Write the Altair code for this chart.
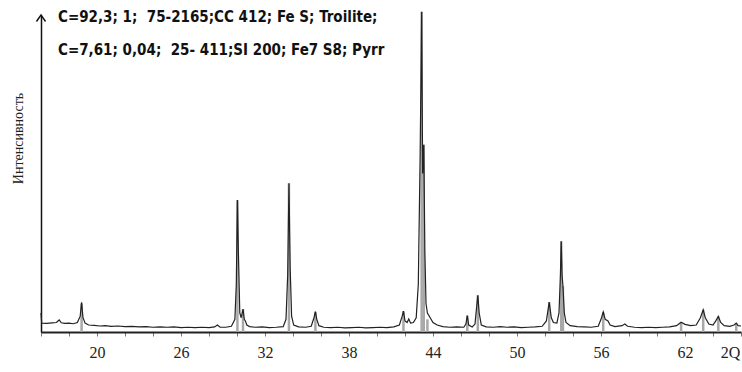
import altair as alt
import pandas as pd

# Diffraction profile (2θ, intensity in relative units, full scale = 1000)
two_theta = [
    16.00, 16.05, 16.4, 16.8, 17.1, 17.3, 17.45, 17.7, 18.0, 18.3, 18.6, 18.8, 18.9, 19.0, 19.15,
    19.4, 19.8, 20.2, 20.6, 21.0, 21.5, 22.0, 22.5, 23.0, 23.5, 24.0, 24.5, 25.0, 25.5, 26.0,
    26.5, 27.0, 27.5, 28.0, 28.4, 28.6, 28.8, 29.2, 29.6, 29.85, 29.95, 30.03, 30.1, 30.2, 30.3,
    30.43, 30.52, 30.6, 30.7, 30.9, 31.3, 31.8, 32.3, 32.8, 33.3, 33.5, 33.62, 33.71, 33.8, 33.9,
    34.05, 34.4, 34.9, 35.3, 35.5, 35.6, 35.7, 35.85, 36.2, 36.7, 37.2, 37.7, 38.2, 38.7, 39.2,
    39.7, 40.2, 40.7, 41.2, 41.6, 41.8, 41.89, 42.0, 42.15, 42.27, 42.4, 42.6, 42.8, 42.95, 43.08,
    43.19, 43.26, 43.34, 43.42, 43.5, 43.6, 43.8, 44.0, 44.3, 44.7, 45.2, 45.7, 46.2, 46.35, 46.45,
    46.55, 46.8, 47.0, 47.12, 47.2, 47.3, 47.45, 47.8, 48.3, 48.8, 49.3, 49.8, 50.3, 50.8, 51.3,
    51.8, 52.1, 52.3, 52.45, 52.6, 52.85, 53.0, 53.1, 53.16, 53.22, 53.28, 53.38, 53.5, 53.8, 54.3,
    54.8, 55.3, 55.8, 56.0, 56.16, 56.3, 56.5, 56.65, 57.0, 57.5, 57.7, 57.9, 58.4, 58.9, 59.4,
    59.9, 60.4, 60.9, 61.4, 61.72, 62.0, 62.4, 62.8, 63.1, 63.3, 63.45, 63.7, 64.0, 64.2, 64.38,
    64.55, 64.8, 65.2, 65.5, 65.66, 65.8, 66.0,
]
intensity = [
    60, 28, 27, 29, 30, 38, 29, 27, 28, 26, 30, 50, 94, 45, 28,
    22, 21, 19, 20, 18, 19, 17, 18, 16, 17, 15, 16, 15, 16, 14,
    15, 14, 15, 14, 16, 22, 15, 15, 18, 40, 150, 416, 250, 60, 45,
    72, 40, 35, 22, 17, 15, 16, 14, 15, 17, 40, 180, 469, 200, 50,
    22, 16, 15, 18, 45, 64, 40, 20, 15, 14, 15, 13, 14, 15, 13,
    14, 15, 14, 16, 22, 50, 66, 35, 30, 41, 28, 30, 45, 150, 550,
    1010, 500, 591, 250, 90, 60, 45, 30, 22, 17, 15, 16, 15, 25, 52,
    22, 16, 25, 80, 116, 60, 22, 16, 15, 17, 15, 16, 14, 15, 16,
    18, 35, 94, 45, 30, 28, 60, 180, 286, 180, 145, 60, 30, 20, 17,
    16, 15, 18, 40, 63, 40, 35, 22, 17, 20, 25, 18, 15, 14, 15,
    14, 15, 16, 20, 31, 24, 20, 22, 45, 70, 45, 25, 22, 35, 49,
    30, 20, 18, 22, 28, 20, 19,
]

# Reference (stick) pattern drawn in grey
stick_theta = [18.9, 30.03, 30.43, 33.71, 35.6, 41.89, 43.19, 43.34, 43.6, 46.45, 47.2,
               52.3, 53.16, 53.28, 56.16, 61.72, 63.3, 64.38, 65.66]
stick_height = [90, 416, 72, 469, 64, 66, 1010, 591, 40, 52, 116,
                94, 286, 145, 63, 31, 70, 49, 28]

tick_values = list(range(16, 67, 2))
tick_labels = [20, 26, 32, 38, 44, 50, 56, 62]
x_title = "2Q"
y_title = "Интенсивность"
header_lines = [
    "C=92,3; 1;\u00a0 75-2165;CC 412; Fe S; Troilite;",
    "C=7,61; 0,04;\u00a0 25- 411;SI 200; Fe7 S8; Pyrr",
]

profile = pd.DataFrame({"t": two_theta, "i": intensity})
sticks_df = pd.DataFrame({"t": stick_theta, "h": stick_height, "z": [0] * len(stick_theta)})

label_expr = "indexof([" + ",".join(str(v) for v in tick_labels) + "], datum.value) >= 0 ? datum.label : ''"

x_scale = alt.Scale(domain=[16, 66], nice=False, zero=False)
y_scale = alt.Scale(domain=[0, 1000], nice=False)

x_axis = alt.Axis(
    values=tick_values, labelExpr=label_expr, grid=False,
    domainColor="#222", domainWidth=2, tickColor="#777", tickSize=4, tickWidth=1,
    labelFont="Liberation Serif", labelFontSize=16, labelColor="#222", labelPadding=8,
    labelFlush=False, labelOverlap=False, labelBound=False, labelSeparation=0,
    title=x_title, titleFont="Liberation Serif", titleFontSize=16, titleFontWeight="normal",
    titleColor="#222", titleX=689, titleY=12, titleAlign="center", titleBaseline="top",
)
y_axis = alt.Axis(
    labels=False, ticks=False, grid=False, domainColor="#111", domainWidth=1.5,
    title=y_title, titleFont="Liberation Serif", titleFontSize=14, titleFontWeight="normal",
    titleColor="#222", titleAngle=270, titleX=-23, titleY=123, titleAlign="center",
    titleBaseline="middle",
)

sticks = alt.Chart(sticks_df).mark_rule(color="#a8a8a8", strokeWidth=2.5).encode(
    x=alt.X("t:Q", scale=x_scale, axis=x_axis),
    y=alt.Y("z:Q", scale=y_scale, axis=y_axis),
    y2="h:Q",
)

line = alt.Chart(profile).mark_line(color="#222", strokeWidth=1.2, clip=False).encode(
    x=alt.X("t:Q", scale=x_scale, axis=x_axis),
    y=alt.Y("i:Q", scale=y_scale, axis=y_axis),
)

arrow = alt.Chart(pd.DataFrame({"a": [0]})).mark_point(
    shape="M-0.7,1L0,0L0.7,1", filled=False, size=169, stroke="#111", strokeWidth=1.4, opacity=1,
).encode(x=alt.value(0), y=alt.value(0))

header = alt.Chart(pd.DataFrame({"txt": ["\n".join(header_lines)]})).mark_text(
    align="left", baseline="top", lineBreak="\n", lineHeight=33,
    font="Liberation Sans Narrow, DejaVu Sans Condensed, sans-serif", fontSize=15,
    fontWeight="bold", color="#111",
).encode(x=alt.value(17), y=alt.value(-5), text="txt:N")

chart = alt.layer(sticks, line, arrow, header).properties(
    width=700, height=317,
    autosize=alt.AutoSizeParams(type="none"),
    padding={"left": 41, "top": 15, "right": 1, "bottom": 40},
    background="white",
).configure_view(stroke=None)

chart.save("out.html", embed_options={"renderer": "svg", "actions": False})
